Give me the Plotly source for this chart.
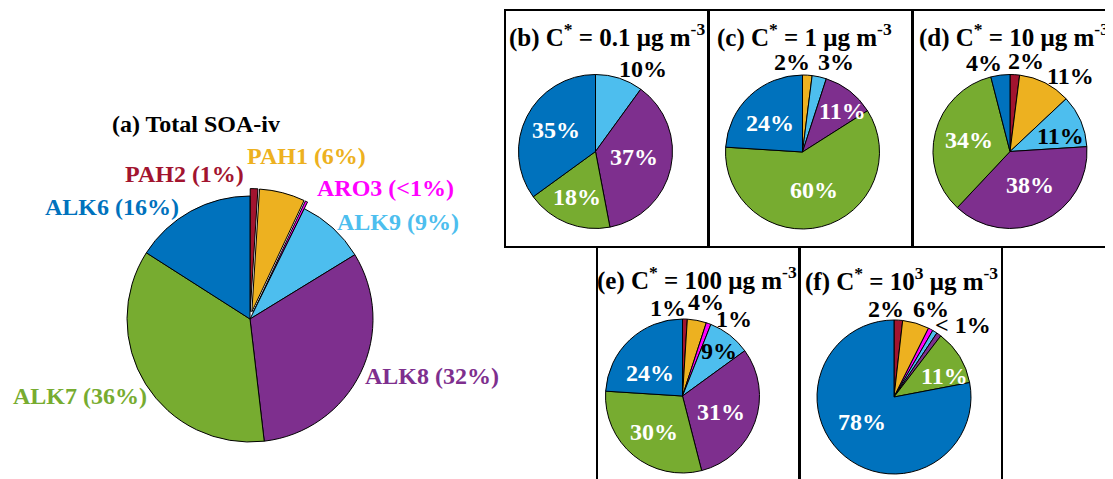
import plotly.graph_objects as go

# The page body keeps the browser's default 8px margin, so the figure is
# drawn 8px smaller and every reference pixel position is shifted by OFF.
OFF = 8
W, H = 1113 - OFF, 479 - OFF

# ---------------- data ----------------
categories = ["PAH2", "PAH1", "ARO3", "ALK9", "ALK8", "ALK7", "ALK6"]
cat_colors = ["#A2142F", "#EDB120", "#FF00FF", "#4DBEEE", "#7E2F8E", "#77AC30", "#0072BD"]

total_values = [1.0, 6.0, 0.3, 9.0, 32.0, 36.0, 16.0]
total_pct = ["1%", "6%", "<1%", "9%", "32%", "36%", "16%"]

b_values = [0, 0, 0, 10, 37, 18, 35]
c_values = [0, 2, 0, 3, 11, 60, 24]
d_values = [2, 11, 0, 11, 38, 34, 4]
e_values = [1, 4, 1, 9, 31, 30, 24]
f_values = [1.8, 5.6, 1.0, 1.0, 1.0, 11.6, 78]

b_text = ["", "", "", "10%", "37%", "18%", "35%"]
c_text = ["", "2%", "", "3%", "11%", "60%", "24%"]
d_text = ["2%", "11%", "", "11%", "38%", "34%", "4%"]
e_text = ["1%", "4%", "1%", "9%", "31%", "30%", "24%"]
f_text = ["2%", "6%", "< 1%", "", "", "11%", "78%"]

panel_titles = ["(a) Total SOA-iv",
                "(b) C<sup>*</sup> = 0.1 μg m<sup>-3</sup>",
                "(c) C<sup>*</sup> = 1 μg m<sup>-3</sup>",
                "(d) C<sup>*</sup> = 10 μg m<sup>-3</sup>",
                "(e) C<sup>*</sup> = 100 μg m<sup>-3</sup>",
                "(f) C<sup>*</sup> = 10<sup>3</sup> μg m<sup>-3</sup>"]

# ---------------- layout (reference pixels) ----------------
FONT = "Liberation Serif, Times New Roman, serif"
FS = 24
FS_TITLE = 25
main_center, main_r, main_pull = (250, 319), 123, 0.06
small_centers = [(595.5, 151.5), (802.5, 152), (1010, 151.5), (682.5, 396), (894, 397)]
small_r = 77
boxes = [(505, 708, 10, 247), (709, 912, 10, 247), (913, 1112, 10, 247),
         (597, 799, 247, 490), (800, 1002, 247, 490)]
title_pos = [(196, 124), (607, 36), (804, 36), (1014, 36), (697, 278), (901, 279)]

main_label_pos = [(184, 174), (306, 156), (385, 188), (398, 222), (432, 376), (80, 396), (112, 207)]
small_label_pos = [
    [None, None, None, (643, 69), (634, 157), (577, 197), (556, 130)],
    [None, (792, 62), None, (836, 62), (842, 111), (814, 190), (770, 123)],
    [(1026, 61), (1070, 76), None, (1060, 136), (1030, 185), (969, 140), (984, 63)],
    [(668, 308), (706, 302), (734, 319), (719, 351), (721, 412), (654, 432), (650, 373)],
    [(886, 309), (931, 309), (963, 325), None, None, (944, 376), (862, 422)],
]
small_label_col = [
    [None, None, None, "black", "white", "white", "white"],
    [None, "black", None, "black", "white", "white", "white"],
    ["black", "black", None, "black", "white", "white", "black"],
    ["black", "black", "black", "black", "white", "white", "white"],
    ["black", "black", "black", None, None, "white", "white"],
]


def px(x):
    return (x - OFF) / W


def py(y):
    return 1 - (y - OFF) / H


def domain(center, r, pull=0.0):
    cx, cy = center
    half = r * (1 + pull)
    return dict(x=[px(cx - half), px(cx + half)], y=[py(cy + half), py(cy - half)])


fig = go.Figure()

fig.add_trace(go.Pie(
    labels=categories, values=total_values, sort=False, direction="clockwise", rotation=0,
    marker=dict(colors=cat_colors, line=dict(color="black", width=1)),
    pull=[main_pull, main_pull, main_pull, 0, 0, 0, 0],
    textinfo="none", hoverinfo="label+percent", showlegend=False,
    domain=domain(main_center, main_r, main_pull)))

small_values = [b_values, c_values, d_values, e_values, f_values]
small_texts = [b_text, c_text, d_text, e_text, f_text]
for vals, center in zip(small_values, small_centers):
    keep = [i for i, v in enumerate(vals) if v > 0]
    fig.add_trace(go.Pie(
        labels=[categories[i] for i in keep], values=[vals[i] for i in keep],
        sort=False, direction="clockwise", rotation=0,
        marker=dict(colors=[cat_colors[i] for i in keep], line=dict(color="black", width=1)),
        textinfo="none", hoverinfo="label+percent", showlegend=False,
        domain=domain(center, small_r)))

annotations = []


def add_text(text, pos, color, size=FS):
    annotations.append(dict(text="<b>" + text + "</b>", x=px(pos[0]), y=py(pos[1]),
                            xref="paper", yref="paper", showarrow=False,
                            xanchor="center", yanchor="middle",
                            font=dict(family=FONT, size=size, color=color)))


for k, (t, pos) in enumerate(zip(panel_titles, title_pos)):
    add_text(t, pos, "black", FS if k == 0 else FS_TITLE)

for cat, pct, pos, col in zip(categories, total_pct, main_label_pos, cat_colors):
    add_text(f"{cat} ({pct})", pos, col)

for texts, poss, cols in zip(small_texts, small_label_pos, small_label_col):
    for t, pos, col in zip(texts, poss, cols):
        if pos is not None and t:
            add_text(t, pos, col)

shapes = []
for x0, x1, y0, y1 in boxes:
    shapes.append(dict(type="rect", xref="paper", yref="paper",
                       x0=px(x0), x1=px(x1), y0=py(y1), y1=py(y0),
                       line=dict(color="black", width=2), fillcolor="rgba(0,0,0,0)"))

fig.update_layout(width=W, height=H, autosize=False,
                  margin=dict(l=0, r=0, t=0, b=0),
                  paper_bgcolor="white", plot_bgcolor="white",
                  annotations=annotations, shapes=shapes)

fig.write_html("out.html")
